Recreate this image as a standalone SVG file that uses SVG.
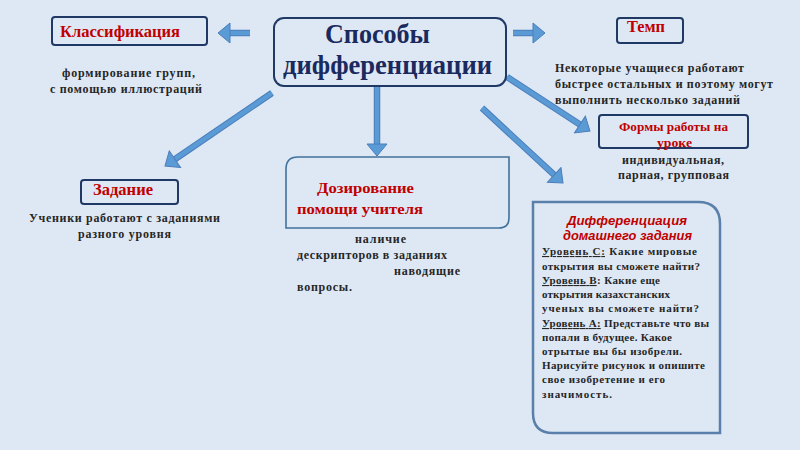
<svg xmlns="http://www.w3.org/2000/svg" width="800" height="450" viewBox="0 0 800 450">
<defs>
<style>
.bg{fill:#dee8f4}
.box{fill:none;stroke:#1f3864;stroke-width:2}
.box2{fill:none;stroke:#41719c;stroke-width:1.6}
.box3{fill:none;stroke:#5a7fab;stroke-width:2.5}
.lbl{font-family:"Liberation Serif","Times New Roman",serif;font-weight:bold;fill:#c00000}
.main{font-family:"Liberation Serif","Times New Roman",serif;font-weight:bold;fill:#1a2a5e;font-size:27px}
.txt{font-family:"Liberation Serif","Times New Roman",serif;font-weight:bold;fill:#262626;font-size:12px}
.hw{font-family:"Liberation Serif","Times New Roman",serif;font-weight:bold;fill:#262626;font-size:11px}
.hwt{font-family:"Liberation Sans",Arial,sans-serif;font-weight:bold;font-style:italic;fill:#c00000;font-size:13px}
.u{text-decoration:underline}
.sh-o{stroke:#4a7ebb;stroke-width:6.5;fill:none}
.sh-i{stroke:#5b9bd5;stroke-width:4.5;fill:none}
</style>
<marker id="ah" markerUnits="userSpaceOnUse" markerWidth="14" markerHeight="22" viewBox="-1 -1 14 22" refX="0" refY="10" orient="auto">
<path d="M0,0 L12,10 L0,20 Z" fill="#5b9bd5" stroke="#4a7ebb" stroke-width="1"/>
</marker>
</defs>
<rect class="bg" x="0" y="0" width="800" height="450"/>

<g id="connectors">
<line class="sh-o" x1="250" y1="33" x2="230" y2="33"/>
<line class="sh-i" x1="250" y1="33" x2="230" y2="33" marker-end="url(#ah)"/>
<line class="sh-o" x1="513" y1="33" x2="533" y2="33"/>
<line class="sh-i" x1="513" y1="33" x2="533" y2="33" marker-end="url(#ah)"/>
<line class="sh-o" x1="272" y1="93" x2="174.9" y2="159.2"/>
<line class="sh-i" x1="272" y1="93" x2="174.9" y2="159.2" marker-end="url(#ah)"/>
<line class="sh-o" x1="377" y1="87" x2="377" y2="144"/>
<line class="sh-i" x1="377" y1="87" x2="377" y2="144" marker-end="url(#ah)"/>
<line class="sh-o" x1="507" y1="77" x2="579.9" y2="124.5"/>
<line class="sh-i" x1="507" y1="77" x2="579.9" y2="124.5" marker-end="url(#ah)"/>
<line class="sh-o" x1="482" y1="108" x2="554.2" y2="174.9"/>
<line class="sh-i" x1="482" y1="108" x2="554.2" y2="174.9" marker-end="url(#ah)"/>
</g>

<g id="center">
<rect class="box" x="274" y="18" width="232" height="68" rx="10"/>
<text class="main" x="377.5" y="43" text-anchor="middle" textLength="105" lengthAdjust="spacingAndGlyphs">Способы</text>
<text class="main" x="387.5" y="74" text-anchor="middle" textLength="209" lengthAdjust="spacingAndGlyphs">дифференциации</text>
</g>

<g id="klass">
<rect class="box" x="52" y="17" width="155" height="28" rx="3"/>
<text class="lbl" x="120" y="37" font-size="16" text-anchor="middle" textLength="120" lengthAdjust="spacingAndGlyphs">Классификация</text>
<text class="txt" x="128.5" y="77" text-anchor="middle" textLength="133">формирование групп,</text>
<text class="txt" x="126" y="93" text-anchor="middle" textLength="152">с помощью иллюстраций</text>
</g>

<g id="temp">
<rect class="box" x="617" y="18" width="66" height="25" rx="3"/>
<text class="lbl" x="646" y="32" font-size="16" text-anchor="middle" textLength="38" lengthAdjust="spacingAndGlyphs">Темп</text>
<text class="txt" x="555" y="72" textLength="189">Некоторые учащиеся работают</text>
<text class="txt" x="555" y="88" textLength="218">быстрее остальных и поэтому могут</text>
<text class="txt" x="555" y="104" textLength="185">выполнить несколько заданий</text>
</g>

<g id="formy">
<rect class="box" x="599" y="115" width="149" height="33" rx="3"/>
<text class="lbl" x="673.5" y="131" font-size="13" text-anchor="middle" textLength="109" lengthAdjust="spacingAndGlyphs">Формы работы на</text>
<text class="lbl" x="674.5" y="147" font-size="13" text-anchor="middle" textLength="35" lengthAdjust="spacingAndGlyphs">уроке</text>
<text class="txt" x="673" y="164" text-anchor="middle" textLength="102">индивидуальная,</text>
<text class="txt" x="673.5" y="179" text-anchor="middle" textLength="111">парная, групповая</text>
</g>

<g id="zadanie">
<rect class="box" x="81" y="180" width="97" height="24" rx="3"/>
<text class="lbl" x="123" y="195" font-size="16" text-anchor="middle" textLength="60" lengthAdjust="spacingAndGlyphs">Задание</text>
<text class="txt" x="124.5" y="222" text-anchor="middle" textLength="191">Ученики работают с заданиями</text>
<text class="txt" x="124.5" y="238" text-anchor="middle" textLength="93">разного уровня</text>
</g>

<g id="dozirovanie">
<path class="box2" d="M286,228 L286,169 Q286,157 298,157 L509,157 L509,218 Q509,228 499,228 Z"/>
<text class="lbl" x="365.5" y="193" font-size="15" text-anchor="middle" textLength="97" lengthAdjust="spacingAndGlyphs">Дозирование</text>
<text class="lbl" x="360" y="214" font-size="15" text-anchor="middle" textLength="126" lengthAdjust="spacingAndGlyphs">помощи учителя</text>
<text class="txt" x="355" y="243" textLength="51">наличие</text>
<text class="txt" x="297" y="259" textLength="150">дескрипторов в заданиях</text>
<text class="txt" x="394" y="275" textLength="66">наводящие</text>
<text class="txt" x="297" y="291" textLength="55">вопросы.</text>
</g>

<g id="domashnee">
<path class="box3" d="M533,202 L698,202 Q720,202 720,224 L720,433 L553,433 Q533,433 533,413 Z"/>
<text class="hwt" x="627" y="225" text-anchor="middle" textLength="120" lengthAdjust="spacingAndGlyphs">Дифференциация</text>
<text class="hwt" x="627.5" y="240" text-anchor="middle" textLength="129" lengthAdjust="spacingAndGlyphs">домашнего задания</text>
<text class="hw" x="542" y="255" textLength="155"><tspan class="u">Уровень С:</tspan> Какие мировые</text>
<text class="hw" x="542" y="270" textLength="158">открытия вы сможете найти?</text>
<text class="hw" x="542" y="284" textLength="118"><tspan class="u">Уровень В</tspan>: Какие еще</text>
<text class="hw" x="542" y="298" textLength="128">открытия казахстанских</text>
<text class="hw" x="542" y="312" textLength="157">ученых вы сможете найти?</text>
<text class="hw" x="542" y="327" textLength="167"><tspan class="u">Уровень А:</tspan> Представьте что вы</text>
<text class="hw" x="542" y="341" textLength="130">попали в будущее. Какое</text>
<text class="hw" x="542" y="355" textLength="140">отрытые вы бы изобрели.</text>
<text class="hw" x="542" y="369" textLength="163">Нарисуйте рисунок и опишите</text>
<text class="hw" x="542" y="383" textLength="123">свое изобретение и его</text>
<text class="hw" x="542" y="398" textLength="70">значимость.</text>
</g>
</svg>
